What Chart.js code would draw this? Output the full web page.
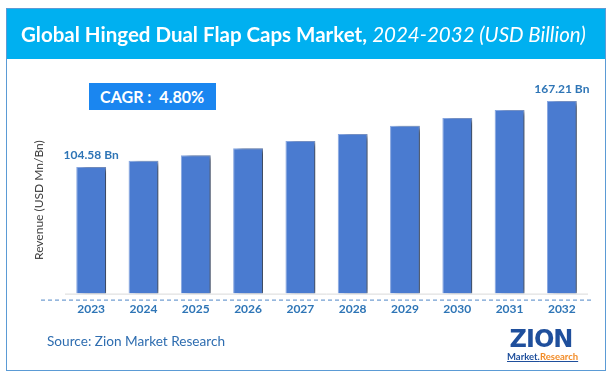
<!DOCTYPE html>
<html><head><meta charset="utf-8">
<script src="https://cdn.jsdelivr.net/npm/chart.js@4.4.1/dist/chart.umd.min.js"></script>
<style>
html,body{margin:0;padding:0;background:#fff;}
body{width:613px;height:379px;overflow:hidden;position:relative;font-family:Lato,"Open Sans",sans-serif;}
#frame{position:absolute;left:6px;top:8px;width:600px;height:363px;border:1.5px solid #5b9bd5;box-sizing:border-box;}
#titlebar{position:absolute;left:6px;top:8px;width:600px;height:51px;background:#00b0f0;}
.fit{position:absolute;white-space:nowrap;line-height:1;}
#title{left:21px;top:26px;color:#fff;font-size:22px;}
#title b{font-weight:700;}
#title i{font-weight:400;font-style:italic;}
#cagr{position:absolute;left:89px;top:83px;width:127px;height:27px;background:#1a86f0;}
#cagrT{color:#fff;font-weight:700;font-size:15px;left:100px;top:90px;}
#src{left:47px;top:334px;color:#2e6db0;font-size:13px;}
#ytitle{color:#404040;font-size:11px;left:39px;top:200px;transform-origin:0 0;}
#c{position:absolute;left:0;top:0;}
#logo{position:absolute;left:507px;top:327px;width:68px;text-align:center;}
#zion{font-family:"DejaVu Sans",sans-serif;font-weight:900;font-size:24px;color:#1f4f9c;letter-spacing:-1px;line-height:24px;}
#mr{font-family:Lato,sans-serif;font-weight:700;font-size:9.5px;line-height:10px;text-decoration:underline;color:#1f4f9c;margin-top:1px;}
#mr span{color:#f28c28;}
</style></head>
<body>
<div id="titlebar"></div>
<div id="frame"></div>
<canvas id="c" width="613" height="379"></canvas>
<div id="title" class="fit" data-w="565"><b>Global Hinged Dual Flap Caps Market,</b> <i>2024-2032 (USD Billion)</i></div>
<div id="cagr"></div>
<div id="cagrT" class="fit" data-w="104">CAGR :&nbsp; 4.80%</div>
<div id="ytitle" class="fit" data-w="120">Revenue (USD Mn/Bn)</div>
<div id="src" class="fit" data-w="178">Source: Zion Market Research</div>
<div id="logo"><div id="zion">ZION</div><div id="mr">Market.<span>Research</span></div></div>
<script>
const years = ['2023','2024','2025','2026','2027','2028','2029','2030','2031','2032'];
const revenue = [104.58, 110.5, 115.9, 122.5, 129.4, 136.0, 143.6, 151.1, 158.7, 167.21];
const valueLabels = ['104.58 Bn','','','','','','','','','167.21 Bn'];
const yMin = -15.1, yMax = 187;

// fit text widths
document.querySelectorAll('.fit').forEach(el=>{
  const target = +el.dataset.w;
  let fs = parseFloat(getComputedStyle(el).fontSize);
  for(let k=0;k<4;k++){
    const w = el.scrollWidth;
    fs = fs*target/w;
    el.style.fontSize = fs+'px';
  }
});
(function(){
  const t=document.getElementById('title'); t.style.top=(34 - t.offsetHeight/2)+'px';
  const c=document.getElementById('cagrT'); c.style.top=(97 - c.offsetHeight/2)+'px'; c.style.left=(152 - c.offsetWidth/2)+'px';
  const s=document.getElementById('src'); s.style.top=(342 - s.offsetHeight/2)+'px';
  const y=document.getElementById('ytitle');
  const w=y.offsetWidth,h=y.offsetHeight;
  y.style.left=(39 - h/2)+'px'; y.style.top=(200 + w/2)+'px';
  y.style.transform='rotate(-90deg)';
})();

const shadowPlugin = {
  id:'shadow',
  beforeDatasetsDraw(chart){
    const ctx=chart.ctx; ctx.save();
    ctx.shadowColor='rgba(0,0,0,0.6)'; ctx.shadowBlur=5; ctx.shadowOffsetX=6; ctx.shadowOffsetY=1;
  },
  afterDatasetsDraw(chart){
    const ctx=chart.ctx; ctx.restore();
    const meta=chart.getDatasetMeta(0);
    ctx.save();
    ctx.font='700 12px Lato, sans-serif';
    ctx.fillStyle='#2e75b6'; ctx.textAlign='center'; ctx.textBaseline='middle';
    meta.data.forEach((bar,i)=>{ if(valueLabels[i]) ctx.fillText(valueLabels[i], bar.x, bar.y-12); });
    ctx.restore();
  },
  beforeDraw(chart){
    const ctx=chart.ctx, a=chart.chartArea;
    ctx.save();
    ctx.strokeStyle='#d9d9d9'; ctx.lineWidth=1;
    ctx.beginPath(); ctx.moveTo(a.left, a.bottom+0.5); ctx.lineTo(a.right, a.bottom+0.5); ctx.stroke();
    ctx.strokeStyle='#4f86c6'; ctx.setLineDash([4,3]);
    ctx.beginPath(); ctx.moveTo(41, a.bottom+6.5); ctx.lineTo(591, a.bottom+6.5); ctx.stroke();
    ctx.restore();
  }
};

new Chart(document.getElementById('c'), {
  type:'bar',
  data:{labels:years, datasets:[{data:revenue, base:yMin, backgroundColor:'#4a7bd0', borderColor:'#87a6e0', borderWidth:1, barPercentage:0.57, categoryPercentage:1}]},
  options:{
    responsive:false, animation:false,
    layout:{padding:{left:65, right:25, top:80, bottom:55}},
    plugins:{legend:{display:false}, tooltip:{enabled:false}},
    scales:{
      y:{display:false, min:yMin, max:yMax},
      x:{grid:{display:false, drawTicks:false}, border:{display:false},
         ticks:{color:'#2e75b6', font:{family:'Lato', weight:'700', size:12}, padding:8}}
    }
  },
  plugins:[shadowPlugin]
});
</script>
</body></html>
